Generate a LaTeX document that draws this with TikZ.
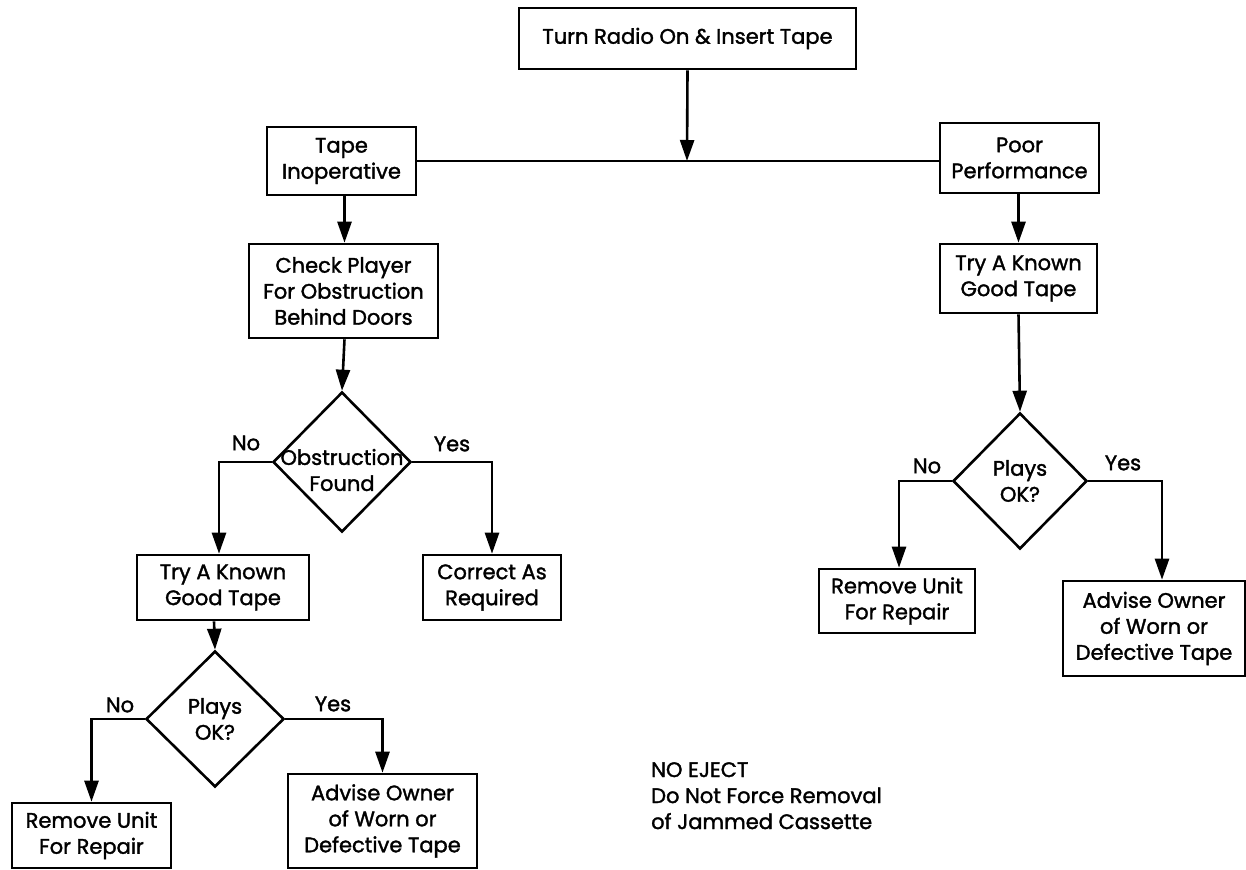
\documentclass[tikz,border=0pt]{standalone}
\usepackage{fontspec}
\setmainfont{Poppins}[FakeBold=1.6]
\usetikzlibrary{shapes.geometric,arrows.meta}

\begin{document}
\begin{tikzpicture}[x=1pt,y=-1pt,
  txt/.style={font=\fontsize{21}{26}\selectfont, align=center},
  stepbox/.style 2 args={draw, line width=2.6pt, txt, inner sep=0pt,
    minimum width=#1, minimum height=#2},
  decision/.style 2 args={diamond, draw, line width=2.6pt, inner sep=0pt,
    minimum width=#1, minimum height=#2},
  flow/.style={line width=2.6pt, -{Triangle[length=21pt,width=14pt]}},
  link/.style={line width=2.6pt},
  answer/.style={txt, inner sep=0pt}
]
\useasboundingbox (0,0) rectangle (1246,869);

% start and the two symptom branches
\node[stepbox={337}{61}] (start) at (687.5,38.5) {Turn Radio On \& Insert Tape};
\node[stepbox={149}{68}] (inop) at (341.5,161) {Tape\\Inoperative};
\node[stepbox={159}{70}] (poor) at (1019.5,158) {Poor\\Performance};
\coordinate (join) at (687,161);

% left branch: tape inoperative
\node[stepbox={189}{94}] (check) at (343.5,291) {Check Player\\For Obstruction\\Behind Doors};
\node[decision={138}{140}, label={[txt, yshift=-8pt]center:Obstruction\\Found}] (obs) at (342,462) {};
\node[stepbox={172}{65}] (tryL) at (223,587.5) {Try A Known\\Good Tape};
\node[stepbox={138}{65}] (correct) at (492,587.5) {Correct As\\Required};
\node[decision={138}{136}, label={[txt]center:Plays\\OK?}] (playsL) at (215,719) {};
\node[stepbox={159}{65}] (removeL) at (91.5,835.5) {Remove Unit\\For Repair};
\node[stepbox={189}{94}] (adviseL) at (382.5,821) {Advise Owner\\of Worn or\\Defective Tape};

% right branch: poor performance
\node[stepbox={157}{69}] (tryR) at (1018.5,278.5) {Try A Known\\Good Tape};
\node[decision={134}{136}, label={[txt]center:Plays\\OK?}] (playsR) at (1020,481) {};
\node[stepbox={156}{64}] (removeR) at (897,601) {Remove Unit\\For Repair};
\node[stepbox={182}{95}] (adviseR) at (1154,628.5) {Advise Owner\\of Worn or\\Defective Tape};

% branch labels
\node[answer] (noA) at (246,443) {No};
\node[answer] (yesA) at (452,444) {Yes};
\node[answer] (noB) at (120,705) {No};
\node[answer] (yesB) at (333,704) {Yes};
\node[answer] (noC) at (927,466) {No};
\node[answer] (yesC) at (1123,463) {Yes};

% warning note
\node[txt, align=left, anchor=north west, inner sep=0pt] (note) at (651,762)
  {NO EJECT\\Do Not Force Removal\\of Jammed Cassette};

% connectors
\draw[flow] (start.south) -- (join);
\draw[link] (inop.east) -- (inop.east -| poor.west);
\draw[flow] ([xshift=3pt]inop.south) -- ([xshift=3pt]inop.south |- check.north);
\draw[flow] ([xshift=1pt]check.south) -- (obs.north);
\draw[flow] (obs.west) -| ([xshift=-4pt]tryL.north);
\draw[flow] (obs.east) -| (correct.north);
\draw[flow] ([xshift=-9pt]tryL.south) -- (playsL.north);
\draw[flow] (playsL.west) -| (removeL.north);
\draw[flow] (playsL.east) -| (adviseL.north);
\draw[flow] ([xshift=-1pt]poor.south) -- ([xshift=-1pt]poor.south |- tryR.north);
\draw[flow] (tryR.south) -- (playsR.north);
\draw[flow] (playsR.west) -| ([xshift=2pt]removeR.north);
\draw[flow] (playsR.east) -| ([xshift=8pt]adviseR.north);
\end{tikzpicture}
\end{document}
